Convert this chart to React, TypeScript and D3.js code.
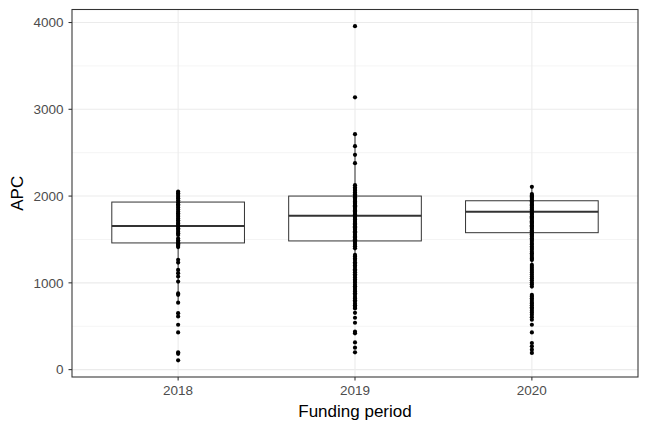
import * as d3 from "d3";

const W = 648;
const H = 432;
const PANEL = { left: 72, right: 638, top: 9.5, bottom: 377 };

const years = ["2018", "2019", "2020"];
const yTicks = [0, 1000, 2000, 3000, 4000];
const yMinor = [500, 1500, 2500, 3500];

// box stats
const q1 = [1460, 1483, 1578];
const medians = [1655, 1774, 1820];
const q3 = [1931, 2000, 1946];
const whiskerLow = [772, 705, 1030];
const whiskerHigh = [2052, 2713, 2107];

const apc2018 = [2052, 2033, 2012, 1992, 1974, 1951, 1928, 1907, 1889, 1868, 1846, 1822, 1803, 1783, 1762, 1741,
  1722, 1701, 1684, 1667, 1648, 1629, 1611, 1590, 1571, 1552, 1512, 1491, 1472, 1456, 1441, 1427, 1412, 1266,
  1234, 1149, 1111, 1073, 1015, 878, 862, 772, 651, 613, 517, 429, 199, 182, 107];

const apc2019 = [3958, 3138, 2713, 2575, 2475, 2379, 2126, 2098, 2081, 2062, 2041, 2022, 2003, 1987, 1969, 1956,
  1938, 1924, 1911, 1893, 1882, 1864, 1851, 1833, 1821, 1806, 1788, 1776, 1758, 1746, 1731, 1713, 1702, 1684,
  1671, 1653, 1642, 1623, 1611, 1594, 1582, 1563, 1551, 1534, 1522, 1503, 1491, 1474, 1458, 1438, 1421, 1398,
  1322, 1303, 1281, 1262, 1238, 1221, 1199, 1182, 1158, 1141, 1122, 1098, 1081, 1062, 1039, 1021, 1002, 978,
  961, 942, 918, 901, 879, 862, 838, 821, 799, 781, 758, 741, 722, 705, 655, 598, 540, 437, 418, 314, 253, 199];

const apc2020 = [2107, 2023, 2008, 1994, 1981, 1966, 1949, 1936, 1921, 1904, 1891, 1873, 1862, 1844, 1831, 1816,
  1799, 1786, 1768, 1756, 1741, 1723, 1711, 1694, 1682, 1663, 1651, 1634, 1622, 1603, 1591, 1574, 1561, 1543,
  1532, 1514, 1498, 1481, 1459, 1442, 1418, 1401, 1382, 1358, 1341, 1322, 1298, 1281, 1264, 1207, 1184, 1161,
  1139, 1118, 1096, 1073, 1052, 1030, 1004, 983, 957, 843, 861, 822, 801, 779, 762, 741, 718, 702, 679, 657,
  633, 604, 575, 517, 429, 307, 268, 230, 192];

const series = [apc2018, apc2019, apc2020];

const FONT = "'Liberation Sans', Arial, Helvetica, sans-serif";

export default function App() {
  const x = d3
    .scalePoint<string>()
    .domain(years)
    .range([PANEL.left, PANEL.right])
    .padding(0.6);
  const y = d3.scaleLinear().domain([-85, 4150]).range([PANEL.bottom, PANEL.top]);
  const boxW = x.step() * 0.75;
  const dark = "#333333";

  return (
    <div style={{ position: "absolute", left: 0, top: 0 }}>
      <svg width={W} height={H} viewBox={`0 0 ${W} ${H}`} style={{ display: "block", background: "#fff" }}>
        <rect x={PANEL.left} y={PANEL.top} width={PANEL.right - PANEL.left} height={PANEL.bottom - PANEL.top} fill="#fff" />
        {/* grid */}
        {yMinor.map((v) => (
          <line key={"mn" + v} x1={PANEL.left} x2={PANEL.right} y1={y(v)} y2={y(v)} stroke="#ebebeb" strokeWidth={0.55} />
        ))}
        {yTicks.map((v) => (
          <line key={"mj" + v} x1={PANEL.left} x2={PANEL.right} y1={y(v)} y2={y(v)} stroke="#ebebeb" strokeWidth={1.07} />
        ))}
        {years.map((c) => (
          <line key={"vx" + c} x1={x(c)} x2={x(c)} y1={PANEL.top} y2={PANEL.bottom} stroke="#ebebeb" strokeWidth={1.07} />
        ))}

        {/* boxes */}
        {years.map((c, i) => {
          const cx = x(c) ?? 0;
          return (
            <g key={"box" + c} stroke={dark} fill="none">
              <line x1={cx} x2={cx} y1={y(q3[i])} y2={y(whiskerHigh[i])} strokeWidth={1} />
              <line x1={cx} x2={cx} y1={y(q1[i])} y2={y(whiskerLow[i])} strokeWidth={1} />
              <rect
                x={cx - boxW / 2}
                y={y(q3[i])}
                width={boxW}
                height={y(q1[i]) - y(q3[i])}
                fill="#fff"
                strokeWidth={1}
              />
              <line x1={cx - boxW / 2} x2={cx + boxW / 2} y1={y(medians[i])} y2={y(medians[i])} strokeWidth={2} />
            </g>
          );
        })}

        {/* points */}
        {series.map((vals, i) =>
          vals.map((v, j) => <circle key={`p${i}-${j}`} cx={x(years[i])} cy={y(v)} r={2.1} fill="#000" />)
        )}

        {/* panel border */}
        <rect
          x={PANEL.left}
          y={PANEL.top}
          width={PANEL.right - PANEL.left}
          height={PANEL.bottom - PANEL.top}
          fill="none"
          stroke={dark}
          strokeWidth={1.07}
        />

        {/* y axis */}
        {yTicks.map((v) => (
          <g key={"yt" + v}>
            <line x1={PANEL.left - 3.5} x2={PANEL.left} y1={y(v)} y2={y(v)} stroke={dark} strokeWidth={1.07} />
            <text
              x={PANEL.left - 8.5}
              y={y(v)}
              dy="0.36em"
              textAnchor="end"
              fontFamily={FONT}
              fontSize={13.5}
              fill="#4d4d4d"
            >
              {v}
            </text>
          </g>
        ))}
        {/* x axis */}
        {years.map((c) => (
          <g key={"xt" + c}>
            <line x1={x(c)} x2={x(c)} y1={PANEL.bottom} y2={PANEL.bottom + 3.5} stroke={dark} strokeWidth={1.07} />
            <text
              x={x(c)}
              y={395}
              textAnchor="middle"
              fontFamily={FONT}
              fontSize={13.5}
              fill="#4d4d4d"
            >
              {c}
            </text>
          </g>
        ))}

        <text
          x={(PANEL.left + PANEL.right) / 2}
          y={416.5}
          textAnchor="middle"
          fontFamily={FONT}
          fontSize={17}
          fill="#000"
        >
          Funding period
        </text>
        <text
          transform={`translate(22.5,${(PANEL.top + PANEL.bottom) / 2}) rotate(-90)`}
          textAnchor="middle"
          fontFamily={FONT}
          fontSize={17}
          fill="#000"
        >
          APC
        </text>
      </svg>
    </div>
  );
}
